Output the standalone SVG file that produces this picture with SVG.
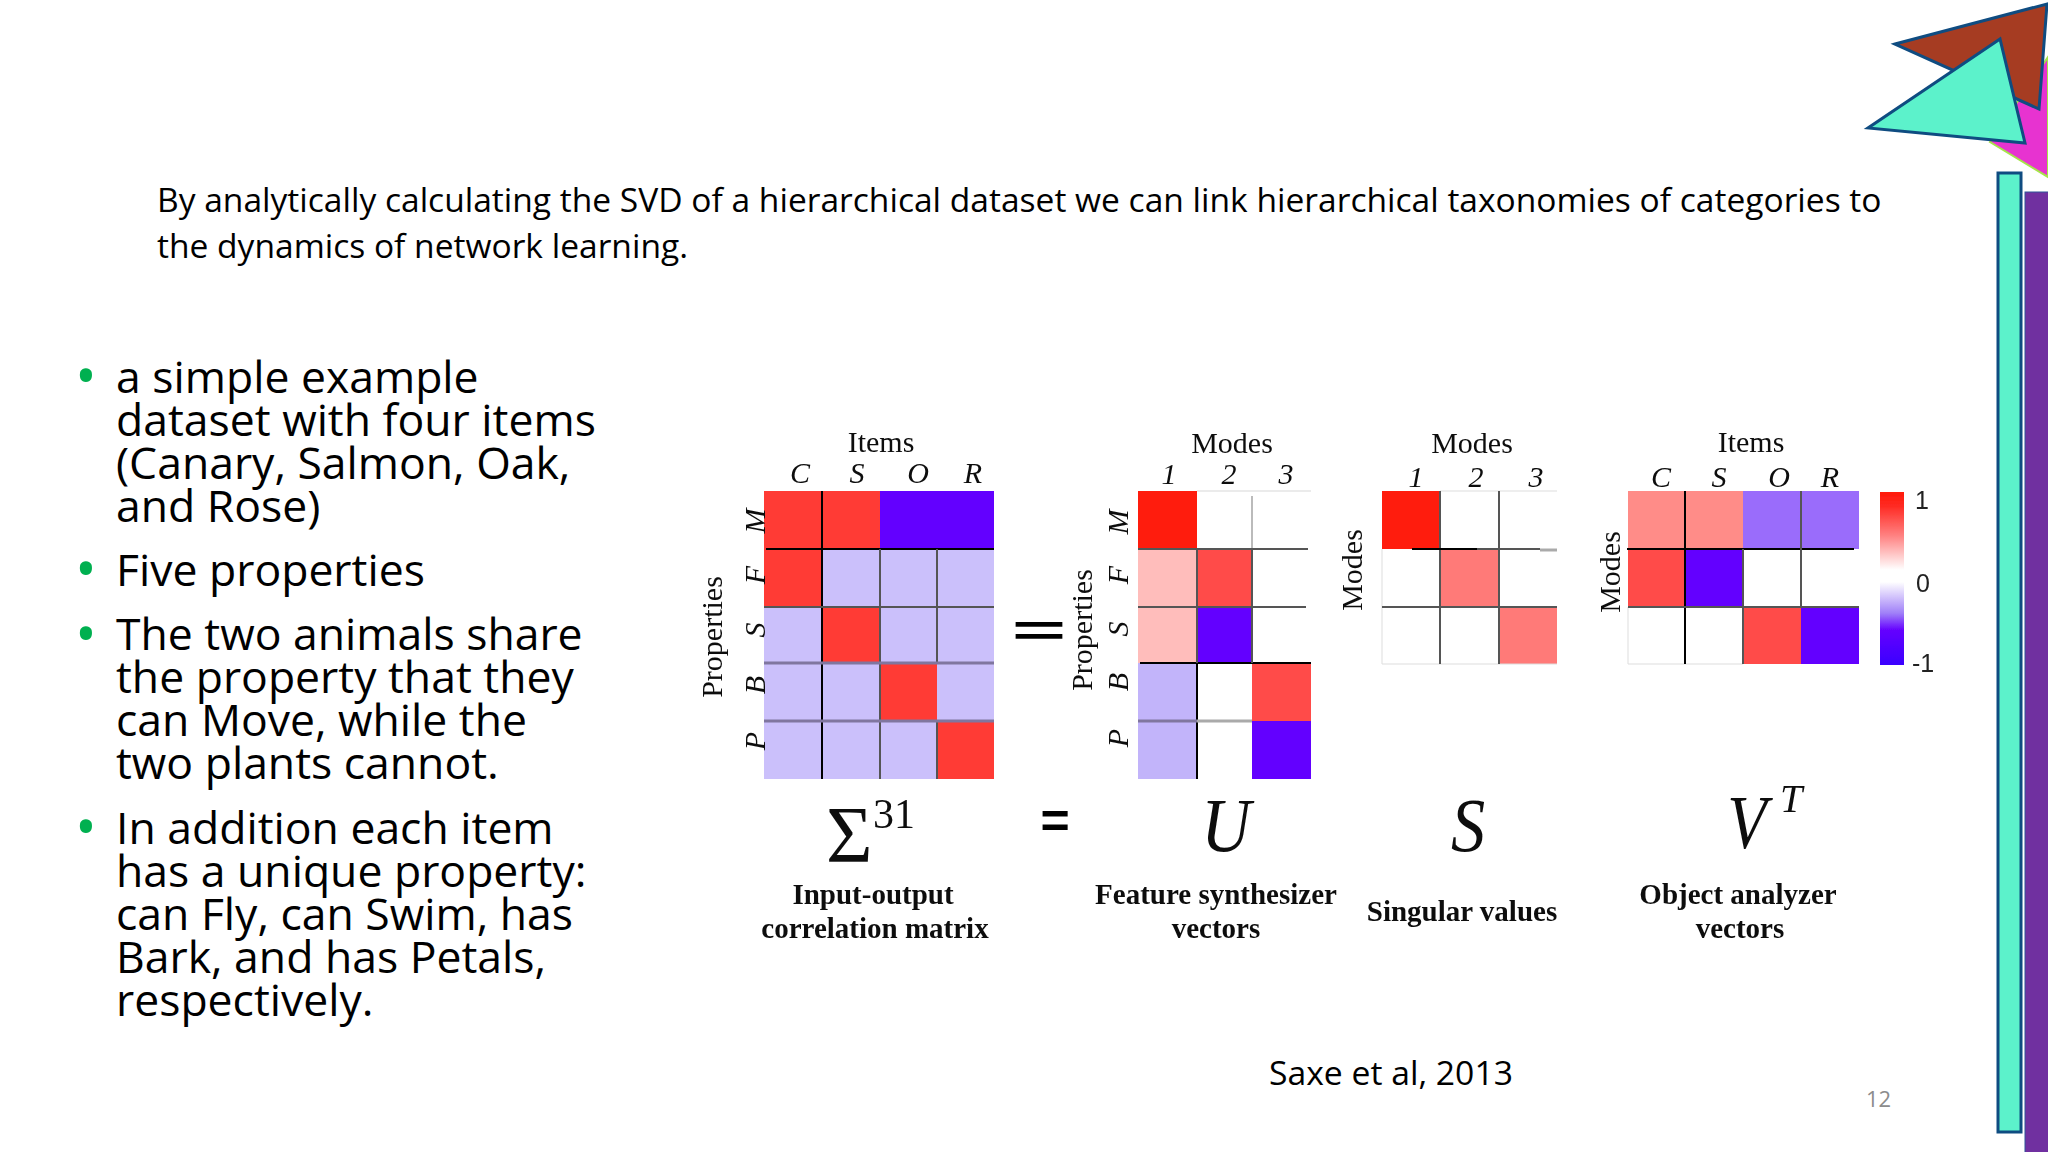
<svg xmlns="http://www.w3.org/2000/svg" width="2048" height="1152" viewBox="0 0 2048 1152">
<defs>
<style>
.b{font-family:"Open Sans","Noto Sans",sans-serif;fill:#000}
.li{font-size:44.5px}
.dot{fill:#00b050;font-size:58px;font-family:"Open Sans",sans-serif}
.s{font-family:"Liberation Serif",serif;font-size:30px;fill:#111}
.i{font-style:italic}
.m{text-anchor:middle}
.cap{font-weight:bold;font-size:29px;text-anchor:middle}
.r{fill:#ff3a36}.p{fill:#6400ff}.l{fill:#cbc0fb}
.w{fill:#fff}
.k{stroke:#000;stroke-width:2;fill:none}
.g{stroke:#555;stroke-width:2;fill:none}
.h{stroke:#80769f;stroke-width:3;fill:none}
.t{stroke:#0f4c81;stroke-width:3;stroke-linejoin:miter}
</style>
<linearGradient id="cb" x1="0" y1="0" x2="0" y2="1">
<stop offset="0" stop-color="#ff1a0a"/><stop offset=".08" stop-color="#ff2a22"/><stop offset=".25" stop-color="#ff8080"/><stop offset=".45" stop-color="#fff"/><stop offset=".52" stop-color="#fff"/><stop offset=".7" stop-color="#a080f8"/><stop offset=".8" stop-color="#6400ff"/><stop offset="1" stop-color="#3a00ff"/>
</linearGradient>
<filter id="soft" x="-2%" y="-2%" width="104%" height="104%"><feGaussianBlur stdDeviation="0.6"/></filter>
</defs>
<rect width="2048" height="1152" fill="#fff"/>

<g id="decor">
<polygon points="1990,142 2048,57 2048,177" fill="#e733d0" stroke="#a6e34a" stroke-width="2"/>
<polygon class="t" points="1895,44 2047,4 2039,109" fill="#a63c22"/>
<polygon class="t" points="2000,39 1868,128 2025,143" fill="#5cf2cb"/>
<rect class="t" x="1998" y="173" width="23" height="959" fill="#5cf2cb"/>
<rect x="2025" y="192" width="24" height="961" fill="#7030a0" stroke="#2f5597" stroke-width="1"/>
</g>

<g id="intro">
<text class="b" font-size="33.55" x="157" y="212">By analytically calculating the SVD of a hierarchical dataset we can link hierarchical taxonomies of categories to</text>
<text class="b" font-size="33.55" x="157" y="258">the dynamics of network learning.</text>
</g>

<g id="bullets">
<text class="dot" x="75" y="397">•</text>
<text class="b li"><tspan x="116" y="393">a simple example</tspan><tspan x="116" y="436">dataset with four items</tspan><tspan x="116" y="479">(Canary, Salmon, Oak,</tspan><tspan x="116" y="522">and Rose)</tspan></text>
<text class="dot" x="75" y="590">•</text>
<text class="b li" x="116" y="586">Five properties</text>
<text class="dot" x="75" y="655">•</text>
<text class="b li"><tspan x="116" y="650">The two animals share</tspan><tspan x="116" y="693">the property that they</tspan><tspan x="116" y="736">can Move, while the</tspan><tspan x="116" y="779">two plants cannot.</tspan></text>
<text class="dot" x="75" y="848">•</text>
<text class="b li"><tspan x="116" y="844">In addition each item</tspan><tspan x="116" y="887">has a unique property:</tspan><tspan x="116" y="930">can Fly, can Swim, has</tspan><tspan x="116" y="973">Bark, and has Petals,</tspan><tspan x="116" y="1016">respectively.</tspan></text>
</g>

<g id="figure" filter="url(#soft)">
<g id="matrix-sigma">
<rect class="r" x="764" y="491" width="116" height="58"/>
<rect class="p" x="880" y="491" width="114" height="58"/>
<rect class="r" x="764" y="549" width="58" height="58"/>
<rect class="l" x="822" y="549" width="172" height="58"/>
<rect class="l" x="764" y="607" width="58" height="56"/>
<rect class="r" x="822" y="607" width="58" height="56"/>
<rect class="l" x="880" y="607" width="114" height="56"/>
<rect class="l" x="764" y="663" width="116" height="58"/>
<rect class="r" x="880" y="663" width="57" height="58"/>
<rect class="l" x="937" y="663" width="57" height="58"/>
<rect class="l" x="764" y="721" width="173" height="58"/>
<rect class="r" x="937" y="721" width="57" height="58"/>
<path class="k" d="M822 491V779M766 549H994"/>
<path class="g" d="M880 549V779M937 549V663M937 721V779M764 607H994"/>
<path class="h" d="M764 663H994M764 721H994"/>
<text class="s m" x="881" y="452">Items</text>
<text class="s i m" x="800" y="483">C</text><text class="s i m" x="857" y="483">S</text><text class="s i m" x="918" y="483">O</text><text class="s i m" x="973" y="483">R</text>
<text class="s i m" transform="translate(765 521) rotate(-90)">M</text>
<text class="s i m" transform="translate(765 575) rotate(-90)">F</text>
<text class="s i m" transform="translate(765 630) rotate(-90)">S</text>
<text class="s i m" transform="translate(765 685) rotate(-90)">B</text>
<text class="s i m" transform="translate(765 741) rotate(-90)">P</text>
<text class="s m" transform="translate(722 637) rotate(-90)">Properties</text>
</g>
<g id="equals-big"><text font-family="Liberation Sans,sans-serif" font-weight="bold" font-size="84" text-anchor="middle" transform="translate(1039 646) scale(1.11,.52)">=</text></g>
<g id="matrix-u">
<rect x="1138" y="491" width="59" height="58" fill="#ff1a0a"/>
<rect x="1138" y="549" width="59" height="114" fill="#ffbdbb"/>
<rect x="1197" y="549" width="55" height="58" fill="#ff4c48"/>
<rect class="p" x="1197" y="607" width="55" height="56"/>
<rect x="1138" y="663" width="59" height="116" fill="#c2b4fa"/>
<rect x="1252" y="663" width="59" height="58" fill="#ff4c48"/>
<rect class="p" x="1252" y="721" width="59" height="58"/>
<path class="k" d="M1140 663H1311M1197 663V779"/>
<path stroke="#bbb" stroke-width="2" fill="none" d="M1252 496V549"/>
<path stroke="#e4e4e4" stroke-width="1.5" fill="none" d="M1197 491H1311"/>
<path class="g" d="M1197 549V663M1252 549V663M1138 549H1308M1138 607H1306"/>
<path class="h" d="M1138 721H1197"/><path stroke="#aaa" stroke-width="3" fill="none" d="M1197 721H1252"/>
<text class="s m" x="1232" y="453">Modes</text>
<text class="s i m" x="1169" y="484">1</text><text class="s i m" x="1229" y="484">2</text><text class="s i m" x="1286" y="484">3</text>
<text class="s i m" transform="translate(1128 522) rotate(-90)">M</text>
<text class="s i m" transform="translate(1128 575) rotate(-90)">F</text>
<text class="s i m" transform="translate(1128 629) rotate(-90)">S</text>
<text class="s i m" transform="translate(1128 682) rotate(-90)">B</text>
<text class="s i m" transform="translate(1128 738) rotate(-90)">P</text>
<text class="s m" transform="translate(1092 630) rotate(-90)">Properties</text>
</g>
<g id="matrix-s">
<rect x="1382" y="491" width="58" height="58" fill="#ff1a0a"/>
<rect x="1440" y="549" width="59" height="58" fill="#ff7a78"/>
<rect x="1499" y="607" width="58" height="57" fill="#ff7a78"/>
<path stroke="#ddd" stroke-width="1" fill="none" d="M1382 664H1557M1440 491H1557M1382 549V664"/>
<path class="g" d="M1440 491V664M1499 491V664M1382 607H1557"/>
<path class="k" d="M1412 549H1477"/>
<path class="g" d="M1477 549H1540"/><path stroke="#aaa" stroke-width="3" fill="none" d="M1540 550H1557"/>
<text class="s m" x="1472" y="453">Modes</text>
<text class="s i m" x="1416" y="487">1</text><text class="s i m" x="1476" y="487">2</text><text class="s i m" x="1536" y="487">3</text>
<text class="s m" transform="translate(1362 570) rotate(-90)">Modes</text>
</g>
<g id="matrix-vt">
<rect x="1628" y="491" width="115" height="58" fill="#ff8c88"/>
<rect x="1743" y="491" width="116" height="58" fill="#9a6cfb"/>
<rect x="1628" y="549" width="57" height="58" fill="#ff4c48"/>
<rect class="p" x="1685" y="549" width="58" height="58"/>
<rect x="1743" y="607" width="58" height="57" fill="#ff4c48"/>
<rect class="p" x="1801" y="607" width="58" height="57"/>
<path stroke="#ddd" stroke-width="1" fill="none" d="M1628 664H1743M1628 607V664"/>
<path class="k" d="M1685 491V664M1627 549H1854"/>
<path class="g" d="M1743 549V664M1801 491V607M1628 607H1859"/>
<text class="s m" x="1751" y="452">Items</text>
<text class="s i m" x="1661" y="487">C</text><text class="s i m" x="1719" y="487">S</text><text class="s i m" x="1779" y="487">O</text><text class="s i m" x="1830" y="487">R</text>
<text class="s m" transform="translate(1620 572) rotate(-90)">Modes</text>
</g>
<g id="colorbar">
<rect x="1880" y="492" width="24" height="173" fill="url(#cb)"/>
<text font-family="Liberation Sans,sans-serif" font-size="25" fill="#222" text-anchor="middle" x="1922" y="509">1</text>
<text font-family="Liberation Sans,sans-serif" font-size="25" fill="#222" text-anchor="middle" x="1923" y="592">0</text>
<text font-family="Liberation Sans,sans-serif" font-size="25" fill="#222" text-anchor="middle" x="1923" y="672">-1</text>
</g>
<g id="formula">
<text class="s" style="font-size:80px" x="826" y="862">Σ</text>
<text class="s" style="font-size:42px" x="873" y="828">31</text>
<text font-family="Liberation Sans,sans-serif" font-weight="bold" font-size="50" text-anchor="middle" x="1055" y="838">=</text>
<text class="s i m" style="font-size:76px" transform="translate(1226 851) scale(.9,1)">U</text>
<text class="s i m" style="font-size:76px" transform="translate(1468 851) scale(.9,1)">S</text>
<text class="s i m" style="font-size:76px" transform="translate(1747 848) scale(.85,1)">V</text>
<text class="s i m" style="font-size:40px" x="1791" y="812">T</text>
</g>
<g id="captions">
<text class="s cap" x="873" y="904">Input-output</text>
<text class="s cap" x="875" y="938">correlation matrix</text>
<text class="s cap" x="1216" y="904">Feature synthesizer</text>
<text class="s cap" x="1216" y="938">vectors</text>
<text class="s cap" x="1462" y="921">Singular values</text>
<text class="s cap" x="1738" y="904">Object analyzer</text>
<text class="s cap" x="1740" y="938">vectors</text>
</g>
</g>

<g id="citation"><text class="b" font-size="33.7" x="1269" y="1085">Saxe et al, 2013</text></g>
<g id="page"><text font-family="Open Sans,sans-serif" font-size="22" fill="#8c8c8c" x="1866" y="1107">12</text></g>
</svg>
